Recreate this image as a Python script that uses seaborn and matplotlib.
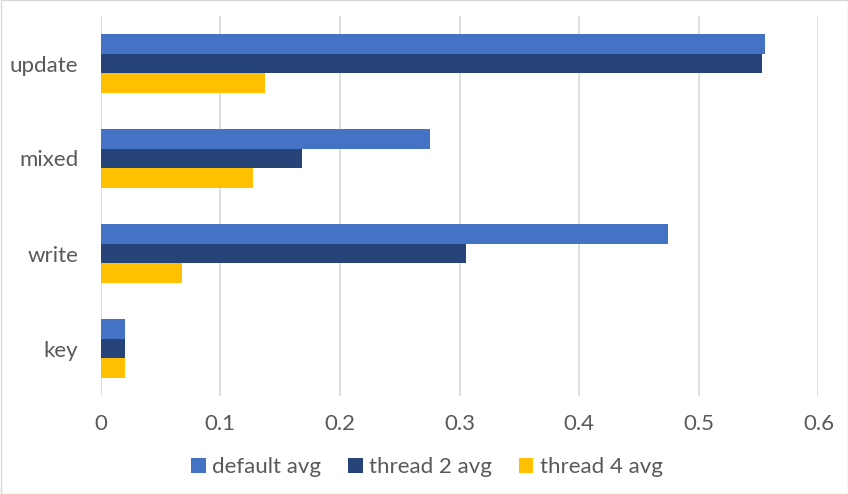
import numpy as np
import pandas as pd
import seaborn as sns
import matplotlib.pyplot as plt
from matplotlib.patches import Rectangle

categories = ['update', 'mixed', 'write', 'key']
series = ['default avg', 'thread 2 avg', 'thread 4 avg']
default_avg = [0.555, 0.275, 0.474, 0.020]
thread2_avg = [0.553, 0.168, 0.305, 0.020]
thread4_avg = [0.137, 0.127, 0.068, 0.020]
colors = ['#4472C4', '#264478', '#FFC000']
xticks = [0, 0.1, 0.2, 0.3, 0.4, 0.5, 0.6]

rows = []
for name, vals in zip(series, [default_avg, thread2_avg, thread4_avg]):
    for cat, v in zip(categories, vals):
        rows.append({'cat': cat, 'series': name, 'value': v})
df = pd.DataFrame(rows)

sns.set_style('white')
plt.rcParams['font.family'] = ['Lato', 'DejaVu Sans']

fig = plt.figure(figsize=(8.48, 4.94), dpi=100)
ax = fig.add_axes([100.6 / 848, 1 - 396 / 494, (818.5 - 100.6) / 848, (396 - 16) / 494])

sns.barplot(data=df, y='cat', x='value', hue='series', order=categories,
            hue_order=series, palette=colors, orient='h', width=0.62,
            saturation=1, linewidth=0, ax=ax, legend=True)

ax.set_xlim(0, 0.6)
ax.set_xticks(xticks)
ax.set_xticklabels(['0' if t == 0 else f'{t:g}' for t in xticks])
ax.grid(axis='x', color='#D9D9D9', linewidth=1.2)
ax.set_axisbelow(True)
for s in ax.spines.values():
    s.set_visible(False)
ax.tick_params(axis='both', length=0, labelsize=16, colors='#595959')
ax.tick_params(axis='x', pad=13)
ax.tick_params(axis='y', pad=16)
ax.set_xlabel('')
ax.set_ylabel('')

handles, labels = ax.get_legend_handles_labels()
ax.legend(handles, labels, loc='center', bbox_to_anchor=(427 / 848, 1 - 467 / 494),
          bbox_transform=fig.transFigure, ncol=3, frameon=False, fontsize=16,
          handlelength=0.65, handleheight=0.65, handletextpad=0.3, columnspacing=1.2,
          labelcolor='#595959')

fig.patches.append(Rectangle((0.5 / 848, 0.5 / 494), 847 / 848, 493 / 494,
                             transform=fig.transFigure, fill=False,
                             edgecolor='#D9D9D9', linewidth=1))

fig.savefig('out.png', dpi=100)
